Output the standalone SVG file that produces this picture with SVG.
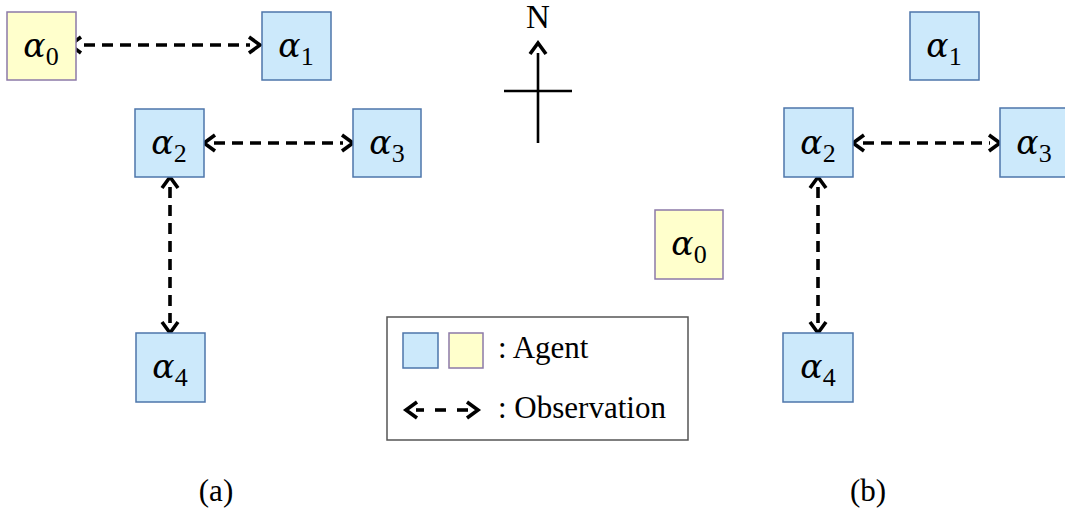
<svg xmlns="http://www.w3.org/2000/svg" width="1065" height="511" viewBox="0 0 1065 511">
<defs>
<style>
.blue{fill:#cce9fb;stroke:#4d76ab;stroke-width:1.5}
.yel{fill:#ffffcc;stroke:#8c7aa8;stroke-width:1.5}
.obs{stroke:#000;stroke-width:3.6;fill:none;stroke-dasharray:11 7}
.lbl{fill:#000}
.al{font-family:"DejaVu Serif","Liberation Serif",serif;font-style:italic;font-size:33px}
.sb{font-family:"Liberation Serif","DejaVu Serif",serif;font-size:26px}
.tx{font-family:"Liberation Serif","Times New Roman",serif;font-size:31px;fill:#000}
</style>
<marker id="ah" viewBox="-4 -12 20 24" refX="0" refY="0" markerWidth="20" markerHeight="24" markerUnits="userSpaceOnUse" orient="auto-start-reverse">
<path d="M-1 -8 L10 0 L-1 8" fill="none" stroke="#000" stroke-width="3.6" stroke-linejoin="miter"/>
</marker>
</defs>
<rect width="1065" height="511" fill="#fff"/>

<g id="connectors">
<line class="obs" x1="80" y1="45" x2="250" y2="45" stroke-dashoffset="-4" marker-start="url(#ah)" marker-end="url(#ah)"/>
<line class="obs" x1="214" y1="143" x2="343" y2="143" marker-start="url(#ah)" marker-end="url(#ah)"/>
<line class="obs" x1="170" y1="187" x2="170" y2="323" marker-start="url(#ah)" marker-end="url(#ah)"/>
<line class="obs" x1="863" y1="143" x2="990" y2="143" marker-start="url(#ah)" marker-end="url(#ah)"/>
<line class="obs" x1="818" y1="187" x2="818" y2="323" marker-start="url(#ah)" marker-end="url(#ah)"/>
</g>

<g id="compass">
<line x1="538" y1="53" x2="538" y2="143" stroke="#000" stroke-width="2.6" marker-start="url(#ah)"/>
<line x1="504" y1="91" x2="572" y2="91" stroke="#000" stroke-width="2.6"/>
<text class="tx" x="538" y="28" text-anchor="middle" style="font-size:33px">N</text>
</g>

<g id="a-alpha0"><rect class="yel" x="7" y="12" width="69" height="68"/>
<text class="lbl" x="41" y="57" text-anchor="middle"><tspan class="al">α</tspan><tspan class="sb" dy="8">0</tspan></text></g>
<g id="a-alpha1"><rect class="blue" x="262" y="12" width="69" height="68"/>
<text class="lbl" x="296" y="57" text-anchor="middle"><tspan class="al">α</tspan><tspan class="sb" dy="8">1</tspan></text></g>
<g id="a-alpha2"><rect class="blue" x="135" y="109" width="69" height="68"/>
<text class="lbl" x="169" y="154" text-anchor="middle"><tspan class="al">α</tspan><tspan class="sb" dy="8">2</tspan></text></g>
<g id="a-alpha3"><rect class="blue" x="353" y="109" width="68" height="68"/>
<text class="lbl" x="387" y="154" text-anchor="middle"><tspan class="al">α</tspan><tspan class="sb" dy="8">3</tspan></text></g>
<g id="a-alpha4"><rect class="blue" x="136" y="333" width="69" height="69"/>
<text class="lbl" x="170" y="378" text-anchor="middle"><tspan class="al">α</tspan><tspan class="sb" dy="8">4</tspan></text></g>

<g id="b-alpha0"><rect class="yel" x="655" y="210" width="68" height="69"/>
<text class="lbl" x="689" y="255" text-anchor="middle"><tspan class="al">α</tspan><tspan class="sb" dy="8">0</tspan></text></g>
<g id="b-alpha1"><rect class="blue" x="910" y="12" width="69" height="68"/>
<text class="lbl" x="944" y="57" text-anchor="middle"><tspan class="al">α</tspan><tspan class="sb" dy="8">1</tspan></text></g>
<g id="b-alpha2"><rect class="blue" x="784" y="108" width="69" height="69"/>
<text class="lbl" x="818" y="154" text-anchor="middle"><tspan class="al">α</tspan><tspan class="sb" dy="8">2</tspan></text></g>
<g id="b-alpha3"><rect class="blue" x="1000" y="108" width="69" height="69"/>
<text class="lbl" x="1034" y="154" text-anchor="middle"><tspan class="al">α</tspan><tspan class="sb" dy="8">3</tspan></text></g>
<g id="b-alpha4"><rect class="blue" x="783" y="333" width="70" height="69"/>
<text class="lbl" x="818" y="378" text-anchor="middle"><tspan class="al">α</tspan><tspan class="sb" dy="8">4</tspan></text></g>

<g id="legend">
<rect x="387" y="317" width="301" height="123" fill="#fff" stroke="#555" stroke-width="1.5"/>
<rect class="blue" x="403" y="333" width="35" height="35"/>
<rect class="yel" x="449" y="333" width="34" height="35"/>
<text class="tx" x="498" y="358">: Agent</text>
<line x1="416" y1="410" x2="424" y2="410" stroke="#000" stroke-width="3.6" marker-start="url(#ah)"/>
<line x1="435" y1="410" x2="446" y2="410" stroke="#000" stroke-width="3.6"/>
<line x1="457" y1="410" x2="468" y2="410" stroke="#000" stroke-width="3.6" marker-end="url(#ah)"/>
<text class="tx" x="498" y="418">: Observation</text>
</g>

<g id="captions">
<text class="tx" x="216" y="501" text-anchor="middle">(a)</text>
<text class="tx" x="868" y="501" text-anchor="middle">(b)</text>
</g>
</svg>
